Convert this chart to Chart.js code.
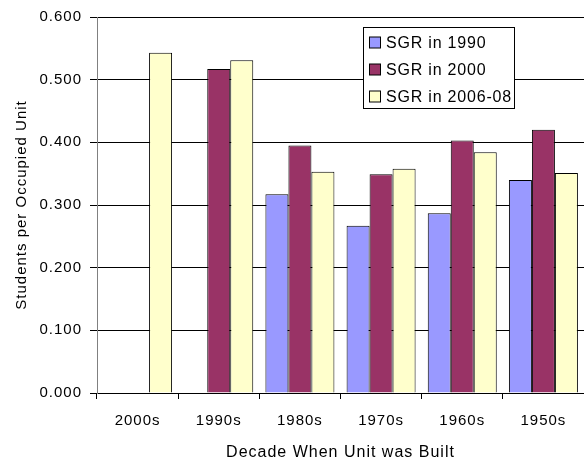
<!DOCTYPE html>
<html lang="en">
<head>
    <meta charset="UTF-8">
    <title>Students per Occupied Unit</title>
    <script src="https://cdn.jsdelivr.net/npm/chart.js"></script>
    <style>
        body {
            margin: 0;
            background: #ffffff;
        }
        canvas {
            display: block;
        }
    </style>
</head>
<body>
    <canvas id="chart" width="584" height="461"></canvas>
    <script>
        const decades = ['2000s', '1990s', '1980s', '1970s', '1960s', '1950s'];
        const sgr1990 = [null, null, 0.317, 0.267, 0.287, 0.340];
        const sgr2000 = [null, 0.517, 0.395, 0.349, 0.403, 0.420];
        const sgr2006 = [0.543, 0.531, 0.353, 0.358, 0.384, 0.351];
        const seriesNames = ['SGR in 1990', 'SGR in 2000', 'SGR in 2006-08'];
        const yTicks = [0, 0.1, 0.2, 0.3, 0.4, 0.5, 0.6];

        const FONT = 'Arial, "Liberation Sans", sans-serif';

        // wider letter spacing like the old office rendering
        const spacingPlugin = {
            id: 'spacing',
            beforeLayout(chart) { chart.ctx.letterSpacing = '1px'; },
            beforeDraw(chart) { chart.ctx.letterSpacing = '1px'; }
        };

        // boxed legend inside the plot, top right
        const boxLegend = {
            id: 'boxLegend',
            afterDraw(chart) {
                const { ctx } = chart;
                ctx.save();
                ctx.fillStyle = '#ffffff';
                ctx.strokeStyle = '#000000';
                ctx.lineWidth = 1;
                ctx.fillRect(363.5, 27.5, 151, 81);
                ctx.strokeRect(363.5, 27.5, 151, 81);
                ctx.font = '16px ' + FONT;
                ctx.letterSpacing = '0.8px';
                ctx.textBaseline = 'middle';
                ctx.textAlign = 'left';
                chart.data.datasets.forEach((ds, i) => {
                    const y = 42.5 + i * 27;
                    ctx.fillStyle = ds.backgroundColor;
                    ctx.fillRect(369.5, y - 5.5, 11, 11);
                    ctx.strokeRect(369.5, y - 5.5, 11, 11);
                    ctx.fillStyle = '#000000';
                    ctx.fillText(ds.label, 386, y + 1);
                });
                ctx.restore();
            }
        };

        const ctx = document.getElementById('chart').getContext('2d');
        const chart = new Chart(ctx, {
            type: 'bar',
            data: {
                labels: decades,
                datasets: [
                    { label: seriesNames[0], data: sgr1990, backgroundColor: '#9999ff' },
                    { label: seriesNames[1], data: sgr2000, backgroundColor: '#993366' },
                    { label: seriesNames[2], data: sgr2006, backgroundColor: '#ffffcc' }
                ]
            },
            options: {
                responsive: false,
                animation: false,
                layout: { padding: { top: 15, left: 0, right: 0, bottom: 0 } },
                datasets: {
                    bar: {
                        borderColor: '#000000',
                        borderWidth: 1,
                        categoryPercentage: 0.85,
                        barPercentage: 1
                    }
                },
                plugins: {
                    legend: { display: false },
                    tooltip: { enabled: false }
                },
                scales: {
                    x: {
                        afterFit: (scale) => { scale.height = 68; },
                        grid: {
                            drawOnChartArea: false,
                            tickLength: 6,
                            tickColor: '#000000'
                        },
                        border: { color: '#000000' },
                        ticks: {
                            color: '#000000',
                            padding: 13,
                            maxRotation: 0,
                            font: { family: FONT, size: 15 }
                        },
                        title: {
                            display: true,
                            text: 'Decade When Unit was Built',
                            color: '#000000',
                            padding: { top: 0, bottom: 0 },
                            font: { family: FONT, size: 16, lineHeight: 1 }
                        }
                    },
                    y: {
                        min: 0,
                        max: 0.6,
                        afterFit: (scale) => { scale.width = 97; },
                        afterBuildTicks: (scale) => {
                            scale.ticks = yTicks.map(v => ({ value: v }));
                        },
                        grid: {
                            color: '#000000',
                            tickColor: '#000000',
                            tickLength: 7
                        },
                        border: { color: '#808080' },
                        ticks: {
                            color: '#000000',
                            padding: 8,
                            font: { family: FONT, size: 15 },
                            callback: (v) => v.toFixed(3)
                        },
                        title: {
                            display: true,
                            text: 'Students per Occupied Unit',
                            color: '#000000',
                            padding: { top: 14, bottom: 0 },
                            font: { family: FONT, size: 15, lineHeight: 1 }
                        }
                    }
                }
            },
            plugins: [spacingPlugin, boxLegend]
        });
    </script>
</body>
</html>
